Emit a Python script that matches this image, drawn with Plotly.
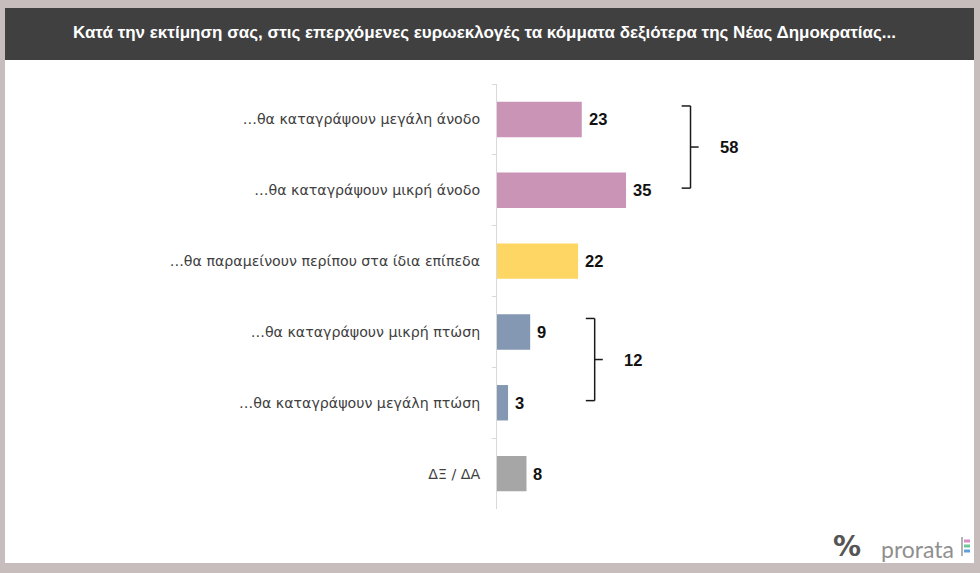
import plotly.graph_objects as go

# ---- data ----
categories = [
    "…θα καταγράψουν μεγάλη άνοδο",
    "…θα καταγράψουν μικρή άνοδο",
    "…θα παραμείνουν περίπου στα ίδια επίπεδα",
    "…θα καταγράψουν μικρή πτώση",
    "…θα καταγράψουν μεγάλη πτώση",
    "ΔΞ / ΔΑ",
]
values = [23, 35, 22, 9, 3, 8]
bar_colors = ["#C994B5", "#C994B5", "#FDD663", "#8497B3", "#8497B3", "#A6A6A6"]
group_start = [0, 3]
group_end = [1, 4]
group_totals = [58, 12]
title_text = "Κατά την εκτίμηση σας, στις επερχόμενες ευρωεκλογές τα κόμματα δεξιότερα της Νέας Δημοκρατίας..."

W, H = 980, 573
ML, MR, MT, MB = 497, 45, 84, 64
PW, PH = W - ML - MR, H - MT - MB


def px(x):
    return (x - ML) / PW


def py(y):
    return (H - MB - y) / PH


fig = go.Figure()
fig.add_trace(go.Bar(
    y=categories, x=values, orientation="h",
    marker=dict(color=bar_colors, line=dict(width=0)),
    width=0.5, hoverinfo="skip",
))

num_font = dict(family="Liberation Sans, Arial", size=16.5, color="#111111")

annotations = []
for c, v in zip(categories, values):
    annotations.append(dict(
        x=v, y=c, xref="x", yref="y", text=f"<b>{v}</b>", showarrow=False,
        xanchor="left", xshift=5, font=num_font,
    ))

shapes = []
# background frame
shapes.append(dict(type="rect", xref="paper", yref="paper", layer="below",
                   x0=px(5), x1=px(974), y0=py(8), y1=py(563),
                   fillcolor="white", line=dict(width=0)))
shapes.append(dict(type="rect", xref="paper", yref="paper", layer="below",
                   x0=px(5), x1=px(974), y0=py(8), y1=py(60),
                   fillcolor="#404040", line=dict(width=0)))

# brackets
arm, tick = 2.4, 2.2
bc = dict(color="#1a1a1a", width=1.5)
for s, e, tot in zip(group_start, group_end, group_totals):
    xv = max(values[s:e + 1]) + 17.5
    y0 = s - 0.19
    y1 = e - 0.03
    ym = (y0 + y1) / 2
    shapes.append(dict(type="line", xref="x", yref="y", x0=xv, x1=xv, y0=y0, y1=y1, line=bc))
    shapes.append(dict(type="line", xref="x", yref="y", x0=xv - arm, x1=xv, y0=y0, y1=y0, line=bc))
    shapes.append(dict(type="line", xref="x", yref="y", x0=xv - arm, x1=xv, y0=y1, y1=y1, line=bc))
    shapes.append(dict(type="line", xref="x", yref="y", x0=xv, x1=xv + tick, y0=ym, y1=ym, line=bc))
    annotations.append(dict(
        x=xv, y=ym, xref="x", yref="y", text=f"<b>{tot}</b>", showarrow=False,
        xanchor="left", xshift=27, font=num_font,
    ))

# title
annotations.append(dict(
    x=px(484), y=py(33), xref="paper", yref="paper", text=f"<b>{title_text}</b>",
    showarrow=False, xanchor="center", yanchor="middle",
    font=dict(family="Liberation Sans, Arial", size=17, color="white"),
))

# logo
annotations.append(dict(
    x=px(847), y=py(546), xref="paper", yref="paper", text="<b>%</b>",
    showarrow=False, xanchor="center", yanchor="middle",
    font=dict(family="DejaVu Sans", size=28, color="#555555"),
))
annotations.append(dict(
    x=px(879), y=py(549), xref="paper", yref="paper", text="prorata",
    showarrow=False, xanchor="left", yanchor="middle",
    font=dict(family="Lato", size=23, color="#8f8f8f"),
))
shapes.append(dict(type="line", xref="paper", yref="paper", x0=px(962), x1=px(962),
                   y0=py(537), y1=py(556), line=dict(color="#999999", width=1.5)))
for yy, col in zip([541, 546, 551], ["#D78DC8", "#6CC79A", "#5FA0DC"]):
    shapes.append(dict(type="line", xref="paper", yref="paper", x0=px(964), x1=px(970),
                       y0=py(yy), y1=py(yy), line=dict(color=col, width=3)))

fig.update_layout(
    width=W, height=H,
    margin=dict(l=ML, r=MR, t=MT, b=MB, pad=0),
    paper_bgcolor="#C8BDBD", plot_bgcolor="rgba(0,0,0,0)",
    showlegend=False,
    xaxis=dict(range=[0, PW / 3.686], visible=False, fixedrange=True),
    yaxis=dict(
        type="category", categoryorder="array", categoryarray=categories,
        autorange="reversed", showgrid=False, zeroline=False,
        showline=True, linecolor="#D9D9D9", linewidth=1,
        ticks="outside", tickson="boundaries", ticklen=4, tickcolor="#D9D9D9",
        tickfont=dict(family="DejaVu Sans", size=14.2, color="#404040"),
        ticklabelstandoff=13,
    ),
    shapes=shapes, annotations=annotations,
)

fig.write_html("out.html", config={"displayModeBar": False})
